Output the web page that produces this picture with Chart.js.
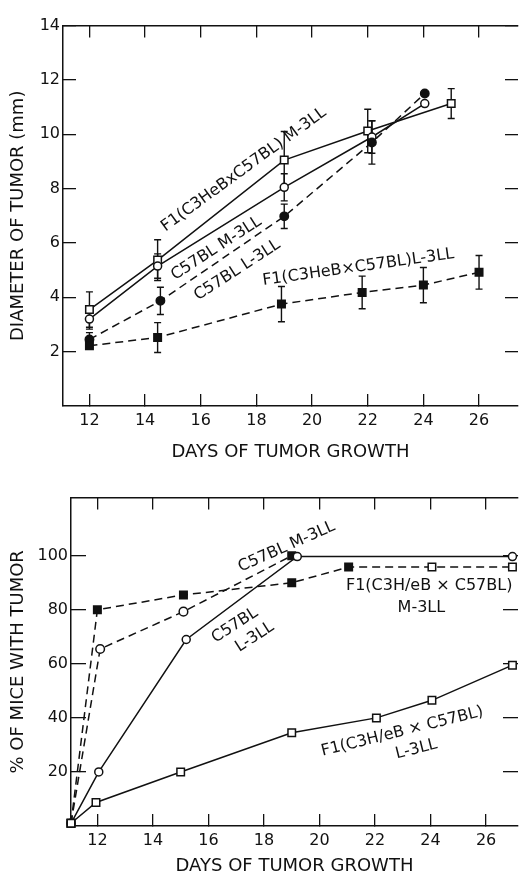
<!DOCTYPE html>
<html><head><meta charset="utf-8">
<script src="https://cdn.jsdelivr.net/npm/chart.js@4/dist/chart.umd.min.js"></script>
<style>
html,body{margin:0;padding:0;background:#fff;}
#wrap{position:relative;width:520px;height:877px;overflow:hidden;background:#fff;}
canvas{position:absolute;left:0;display:block;}
#c1{top:0;} #c2{top:470px;}
</style></head><body>
<div id="wrap"><canvas id="c1" width="520" height="470"></canvas><canvas id="c2" width="520" height="407"></canvas></div>
<script>
// ---------- DATA: top panel, diameter of tumor (mm) vs days ----------
const topXTicks = [12, 14, 16, 18, 20, 22, 24, 26];
const topYTicks = [2, 4, 6, 8, 10, 12, 14];

const f1M_days = [12, 14.45, 19, 22, 25];
const f1M_diam = [3.55, 5.37, 9.05, 10.12, 11.13];
const f1M_err  = [0.65, 0.75, 1.05, 0.8, 0.55];

const b6M_days = [12, 14.45, 19, 22.15, 24.05];
const b6M_diam = [3.2, 5.15, 8.05, 9.9, 11.13];
const b6M_err  = [0.37, 0.45, 0.5, 0.6, 0];

const b6L_days = [12, 14.55, 19, 22.15, 24.05];
const b6L_diam = [2.45, 3.87, 6.98, 9.7, 11.5];
const b6L_err  = [0.25, 0.5, 0.45, 0.8, 0];

const f1L_days = [12, 14.45, 18.9, 21.8, 24, 26];
const f1L_diam = [2.22, 2.52, 3.75, 4.18, 4.45, 4.92];
const f1L_err  = [0.1, 0.55, 0.65, 0.6, 0.65, 0.62];

// ---------- DATA: bottom panel, % of mice with tumor vs days ----------
const botXTicks = [12, 14, 16, 18, 20, 22, 24, 26];
const botYTicks = [20, 40, 60, 80, 100];

const pB6M_days = [11.05, 12.1, 15.1, 19];
const pB6M_pct  = [1, 65.5, 79.3, 100];

const pF1M_days = [11.05, 12, 15.1, 19, 21.05, 24.05, 26.95];
const pF1M_pct  = [1, 80, 85.5, 90, 95.8, 95.8, 95.8];

const pB6L_days = [11.05, 12.05, 15.2, 19.2, 26.95];
const pB6L_pct  = [1, 20, 69, 99.7, 99.7];

const pF1L_days = [11.05, 11.95, 15, 19, 22.05, 24.05, 26.95];
const pF1L_pct  = [1, 8.7, 20, 34.5, 40, 46.5, 59.5];

// ---------- helpers ----------
const FONT = '"DejaVu Sans", sans-serif';
const INK = '#111';
const pts = (xs, ys) => xs.map((x, i) => ({x: x, y: ys[i]}));

const errorBars = {
  id: 'errorBars',
  beforeDatasetsDraw(chart) {
    const {ctx} = chart, x = chart.scales.x, y = chart.scales.y;
    ctx.save();
    ctx.strokeStyle = INK; ctx.lineWidth = 1.4; ctx.setLineDash([]);
    chart.data.datasets.forEach(ds => {
      if (!ds.errors) return;
      ds.data.forEach((p, j) => {
        const e = ds.errors[j];
        if (!e) return;
        const px = x.getPixelForValue(p.x);
        const y1 = y.getPixelForValue(p.y + e), y2 = y.getPixelForValue(p.y - e);
        ctx.beginPath();
        ctx.moveTo(px, y1); ctx.lineTo(px, y2);
        ctx.moveTo(px - 3.5, y1); ctx.lineTo(px + 3.5, y1);
        ctx.moveTo(px - 3.5, y2); ctx.lineTo(px + 3.5, y2);
        ctx.stroke();
      });
    });
    ctx.restore();
  }
};

const annotations = {
  id: 'annotations',
  afterDatasetsDraw(chart, args, opts) {
    const {ctx} = chart, x = chart.scales.x, y = chart.scales.y;
    ctx.save();
    ctx.fillStyle = INK;
    ctx.font = (opts.size || 16) + 'px ' + FONT;
    ctx.textAlign = 'center'; ctx.textBaseline = 'middle';
    (opts.items || []).forEach(a => {
      ctx.save();
      ctx.translate(x.getPixelForValue(a.x), y.getPixelForValue(a.y));
      ctx.rotate(a.angle * Math.PI / 180);
      ctx.fillText(a.text, 0, 0);
      ctx.restore();
    });
    ctx.restore();
  }
};

function frameScales(o) {
  const setTicks = arr => s => { s.ticks = arr.map(v => ({value: v})); };
  const grid = tl => ({drawOnChartArea: false, drawTicks: true, tickLength: tl, color: INK, lineWidth: 1.3});
  const border = show => ({display: show, color: INK, width: 1.5});
  const tickFont = {family: FONT, size: 16};
  const titleFont = {family: FONT, size: 18};
  return {
    x: {type: 'linear', position: 'bottom', min: o.xmin, max: o.xmax,
        afterBuildTicks: setTicks(o.xticks), grid: grid(o.tlx), border: border(true),
        ticks: {color: INK, font: tickFont, padding: o.padX, maxRotation: 0, autoSkip: false},
        title: {display: true, text: o.xtitle, color: INK, font: titleFont, padding: {top: 0, bottom: o.xtitlePad}},
        afterFit: s => { s.height = o.xh; }},
    x2: {type: 'linear', position: 'top', min: o.xmin, max: o.xmax,
        afterBuildTicks: setTicks(o.xticks), grid: grid(o.tlx), border: border(true),
        ticks: {display: false}, afterFit: s => { s.height = 0; }},
    y: {type: 'linear', position: 'left', min: o.ymin, max: o.ymax,
        afterBuildTicks: setTicks(o.yticks), grid: grid(o.tly), border: border(true),
        ticks: {color: INK, font: tickFont, padding: o.padY, autoSkip: false},
        title: {display: true, text: o.ytitle, color: INK, font: titleFont, padding: {top: o.ytitlePad, bottom: 0}},
        afterFit: s => { s.width = o.yw; }},
    y2: {type: 'linear', position: 'right', min: o.ymin, max: o.ymax,
        afterBuildTicks: setTicks(o.yticks), grid: grid(o.tly), border: border(false),
        ticks: {display: false}, afterFit: s => { s.width = 2; }}
  };
}

function series(label, data, opt) {
  return Object.assign({
    label: label, data: data, borderColor: INK, borderWidth: 1.5,
    pointBorderColor: INK, pointBorderWidth: 1.5, pointHoverRadius: 0,
    tension: 0, fill: false, clip: false
  }, opt);
}
const openSq = {pointStyle: 'rect', pointRadius: 5.3, pointBackgroundColor: '#fff'};
const fillSq = {pointStyle: 'rect', pointRadius: 5.3, pointBackgroundColor: INK};
const openCi = {pointStyle: 'circle', pointRadius: 4, pointBackgroundColor: '#fff'};
const fillCi = {pointStyle: 'circle', pointRadius: 4.2, pointBackgroundColor: INK};
const dash = {borderDash: [8, 5]};

// ---------- TOP CHART ----------
new Chart(document.getElementById('c1'), {
  type: 'line',
  data: {datasets: [
    series('F1(C3HeB×C57BL) L-3LL', pts(f1L_days, f1L_diam), Object.assign({errors: f1L_err}, fillSq, dash)),
    series('C57BL L-3LL', pts(b6L_days, b6L_diam), Object.assign({errors: b6L_err}, fillCi, dash)),
    series('C57BL M-3LL', pts(b6M_days, b6M_diam), Object.assign({errors: b6M_err}, openCi)),
    series('F1(C3HeB×C57BL) M-3LL', pts(f1M_days, f1M_diam), Object.assign({errors: f1M_err}, openSq))
  ]},
  options: {
    responsive: false, animation: false, devicePixelRatio: 1, events: [],
    layout: {autoPadding: false, padding: {top: 15, left: 0, right: 0, bottom: 0}},
    scales: frameScales({xmin: 11.05, xmax: 27.4, ymin: 0, ymax: 14, xticks: topXTicks, yticks: topYTicks,
      tlx: -12, tly: -13, padX: 17, padY: 16, xh: 64, yw: 63, xtitlePad: 7, ytitlePad: 8,
      xtitle: 'DAYS OF TUMOR GROWTH', ytitle: 'DIAMETER OF TUMOR (mm)'}),
    plugins: {
      legend: {display: false}, tooltip: {enabled: false},
      annotations: {size: 16, items: [
        {text: 'F1(C3HeBxC57BL) M-3LL', x: 17.55, y: 8.7, angle: -36},
        {text: 'C57BL M-3LL', x: 16.56, y: 5.8, angle: -33},
        {text: 'C57BL L-3LL', x: 17.31, y: 5.0, angle: -33},
        {text: 'F1(C3HeB×C57BL)L-3LL', x: 21.66, y: 5.1, angle: -8}
      ]}
    }
  },
  plugins: [errorBars, annotations]
});

// ---------- BOTTOM CHART ----------
new Chart(document.getElementById('c2'), {
  type: 'line',
  data: {datasets: [
    series('F1(C3H/eB × C57BL) L-3LL', pts(pF1L_days, pF1L_pct), Object.assign({}, openSq)),
    series('C57BL L-3LL', pts(pB6L_days, pB6L_pct), Object.assign({}, openCi)),
    series('F1(C3H/eB × C57BL) M-3LL', pts(pF1M_days, pF1M_pct), Object.assign({}, fillSq, dash, {
      pointStyle: ['rect', 'rect', 'rect', 'rect', 'rect', 'rect', 'rect'],
      pointBackgroundColor: [INK, INK, INK, INK, INK, '#fff', '#fff']})),
    series('C57BL M-3LL', pts(pB6M_days, pB6M_pct), Object.assign({}, openCi, dash, {
      pointStyle: ['rect', 'circle', 'circle', 'rect'],
      pointRadius: [5.3, 4.3, 4.3, 5.3],
      pointBackgroundColor: ['#fff', '#fff', '#fff', INK]}))
  ]},
  options: {
    responsive: false, animation: false, devicePixelRatio: 1, events: [],
    layout: {autoPadding: false, padding: {top: 22, left: 0, right: 0, bottom: 0}},
    scales: frameScales({xmin: 11.05, xmax: 27.15, ymin: 0, ymax: 121.5, xticks: botXTicks, yticks: botYTicks,
      tlx: -12, tly: -15, padX: 17, padY: 18, xh: 51, yw: 71, xtitlePad: 0, ytitlePad: 8,
      xtitle: 'DAYS OF TUMOR GROWTH', ytitle: '% OF MICE WITH TUMOR'}),
    plugins: {
      legend: {display: false}, tooltip: {enabled: false},
      annotations: {size: 16, items: [
        {text: 'C57BL M-3LL', x: 18.82, y: 103.3, angle: -24},
        {text: 'C57BL', x: 16.95, y: 74.2, angle: -33},
        {text: 'L-3LL', x: 17.67, y: 69.9, angle: -33},
        {text: 'F1(C3H/eB × C57BL)', x: 23.95, y: 88.8, angle: 0},
        {text: 'M-3LL', x: 23.67, y: 80.8, angle: 0},
        {text: 'F1(C3H/eB × C57BL)', x: 22.98, y: 34.9, angle: -14},
        {text: 'L-3LL', x: 23.49, y: 28.4, angle: -14}
      ]}
    }
  },
  plugins: [errorBars, annotations]
});
</script>
</body></html>
